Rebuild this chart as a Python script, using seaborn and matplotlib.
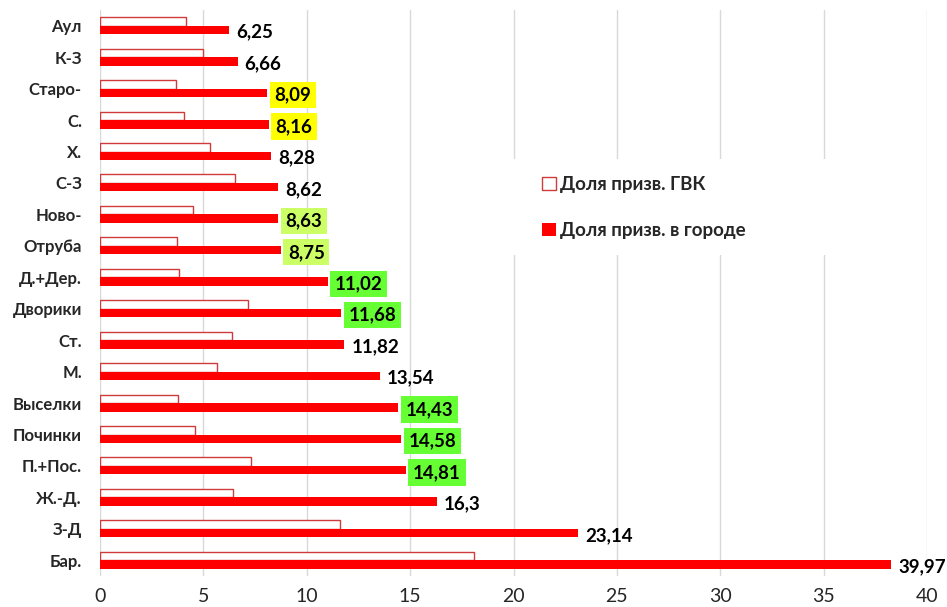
import matplotlib
matplotlib.use("Agg")
import matplotlib.pyplot as plt
from matplotlib.patches import Patch, Rectangle
import seaborn as sns
import pandas as pd

categories = ["Аул", "К-З", "Старо-", "С.", "Х.", "С-З", "Ново-", "Отруба", "Д.+Дер.",
              "Дворики", "Ст.", "М.", "Выселки", "Починки", "П.+Пос.", "Ж.-Д.", "З-Д", "Бар."]
share_gvk = [4.16, 4.96, 3.68, 4.06, 5.32, 6.53, 4.48, 3.74, 3.84,
             7.14, 6.37, 5.66, 3.79, 4.60, 7.29, 6.43, 11.59, 18.11]
share_city = [6.25, 6.66, 8.09, 8.16, 8.28, 8.62, 8.63, 8.75, 11.02,
              11.68, 11.82, 13.54, 14.43, 14.58, 14.81, 16.3, 23.14, 38.27]
city_labels = ["6,25", "6,66", "8,09", "8,16", "8,28", "8,62", "8,63", "8,75", "11,02",
               "11,68", "11,82", "13,54", "14,43", "14,58", "14,81", "16,3", "23,14", "39,97"]
label_bg = [None, None, "#FFFF00", "#FFFF00", None, None, "#CCFF66", "#CCFF66", "#66FF33",
            "#66FF33", None, None, "#66FF33", "#66FF33", "#66FF33", None, None, None]
series_names = ["Доля призв. ГВК", "Доля призв. в городе"]
x_ticks = [0, 5, 10, 15, 20, 25, 30, 35, 40]

sns.set_style("white")
plt.rcParams['font.family'] = ['Lato', 'Open Sans', 'DejaVu Sans']

df = pd.DataFrame({
    "cat": categories * 2,
    "val": share_gvk + share_city,
    "series": [series_names[0]] * len(categories) + [series_names[1]] * len(categories),
})

fig = plt.figure(figsize=(9.47, 6.07), dpi=100)
ax = fig.add_axes([100 / 947, 1 - 576 / 607, 827 / 947, 566 / 607])

RED = "#FF0000"
EDGE = "#D03A3A"
sns.barplot(data=df, y="cat", x="val", hue="series", hue_order=series_names,
            order=categories, orient="h", width=0.54, palette=[RED, RED],
            legend=False, ax=ax, saturation=1)

for p in ax.containers[0]:
    p.set_facecolor("white")
    p.set_edgecolor(EDGE)
    p.set_linewidth(1.0)
for p in ax.containers[1]:
    p.set_edgecolor("none")

ax.set_xlim(0, 40)
ax.set_ylim(len(categories) - 0.5, -0.5)
ax.set_xticks(x_ticks)
ax.set_xticklabels([str(t) for t in x_ticks], fontsize=14)
ax.set_axisbelow(True)
ax.grid(axis="x", color="#D9D9D9", linewidth=1.0)
ax.grid(axis="y", visible=False)
for s in ax.spines.values():
    s.set_visible(False)
ax.tick_params(axis="y", length=0, pad=13)
ax.tick_params(axis="x", length=0, pad=9)
for t in ax.get_yticklabels():
    t.set_fontweight("bold")
    t.set_fontsize(12)
ax.set_xlabel("")
ax.set_ylabel("")

# value labels for the city series
for i, (v, lab, bg) in enumerate(zip(share_city, city_labels, label_bg)):
    kw = {}
    if bg is not None:
        kw["bbox"] = dict(boxstyle="square,pad=0.25", facecolor=bg, edgecolor="none")
    ax.annotate(lab, xy=(v, i + 0.135 + 0.07), xytext=(5, 0), textcoords="offset points",
                ha="left", va="center", fontsize=13.5, fontweight="bold", color="black", **kw)

# white background behind legend (hides gridlines)
ax.add_patch(Rectangle((19.6, 4.24), 20.0, 3.05, facecolor="white", edgecolor="none", zorder=0.8))

handles = [Patch(facecolor="white", edgecolor=EDGE, linewidth=1.0),
           Patch(facecolor=RED, edgecolor="none")]
fig.legend(handles, series_names, loc="center left",
           bbox_to_anchor=(533 / 947, 1 - 207.5 / 607), bbox_transform=fig.transFigure,
           frameon=False, borderpad=0, handlelength=0.7, handleheight=0.7,
           handletextpad=0.25, labelspacing=1.55, prop={"weight": "bold", "size": 13.5})

fig.savefig("out.png", dpi=100)
